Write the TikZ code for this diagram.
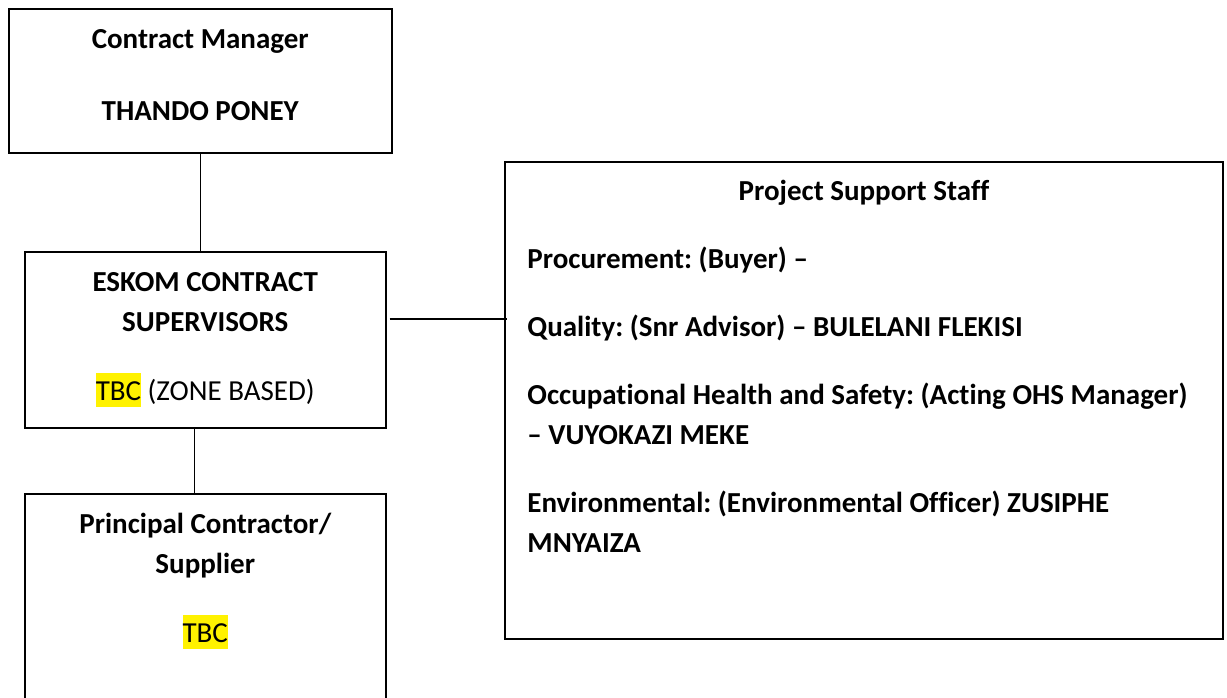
\documentclass[tikz,border=0pt]{standalone}
\usepackage{fontspec}
\setmainfont{Carlito}[Ligatures=NoCommon]
\usetikzlibrary{calc}
\newcommand\hlt[1]{{\setlength{\fboxsep}{0pt}\colorbox{yellow}{\rule[-3.5pt]{0pt}{17pt}#1}}}
\frenchspacing
\begin{document}
\begin{tikzpicture}[x=0.5pt,y=-0.5pt,
  boxst/.style={draw=black, line width=1pt, rectangle, inner sep=0pt},
  conn/.style={draw=black, line width=0.75pt},
  txt/.style={anchor=base, inner sep=0pt, font=\fontsize{14.5pt}{20pt}\selectfont\bfseries\frenchspacing},
  txtr/.style={anchor=base, inner sep=0pt, font=\fontsize{14.5pt}{20pt}\selectfont\frenchspacing},
  txtl/.style={txt, anchor=base west}]
\useasboundingbox (0,0) rectangle (1227,697);
\clip (0,0) rectangle (1227,697);
% boxes
\node[boxst, minimum width=191.75pt, minimum height=72pt] (box1) at (200.25,81) {};
\node[boxst, minimum width=180.25pt, minimum height=88pt] (box2) at (205.25,340) {};
\node[boxst, minimum width=180.25pt, minimum height=123pt] (box3) at (205.25,617) {};
\node[boxst, minimum width=359pt, minimum height=238.5pt] (ps) at (864,400.5) {};
% connectors
\coordinate (hl) at (0,319);
\draw[conn] (box1.south) -- (box1.south |- box2.north);
\draw[conn] ($(box2.south)+(-11,0)$) -- ($(box3.north)+(-11,0)$);
\draw[conn] ([xshift=1.5pt]box2.east |- hl) -- ([xshift=1.5pt]ps.west |- hl);
% texts
\node[txt] (cm1) at (200.25,48) {Contract Manager};
\node[txt] (cm2) at (200.25,120) {THANDO PONEY};
\node[txt] (es1) at (205.25,291) {ESKOM CONTRACT};
\node[txt] (es2) at (205.25,331) {SUPERVISORS};
\node[txtr] (es3) at (205.25,400) {\hlt{TBC} (ZONE BASED)};
\node[txt] (pc1) at (205.25,533) {Principal Contractor/};
\node[txt] (pc2) at (205.25,573) {Supplier};
\node[txtr] (pc3) at (205.25,642) {\hlt{TBC}};
\node[txt] (ps1) at (864,200) {Project Support Staff};
\node[txtl] (ps2) at (527,268) {Procurement: (Buyer) –};
\node[txtl] (ps3) at (527,336) {Quality: (Snr Advisor) – BULELANI FLEKISI};
\node[txtl] (ps4) at (527,404) {Occupational Health and Safety: (Acting OHS Manager)};
\node[txtl] (ps5) at (527,444) {– VUYOKAZI MEKE};
\node[txtl] (ps6) at (527,512) {Environmental: (Environmental Officer) ZUSIPHE};
\node[txtl] (ps7) at (527,552) {MNYAIZA};
\end{tikzpicture}
\end{document}
